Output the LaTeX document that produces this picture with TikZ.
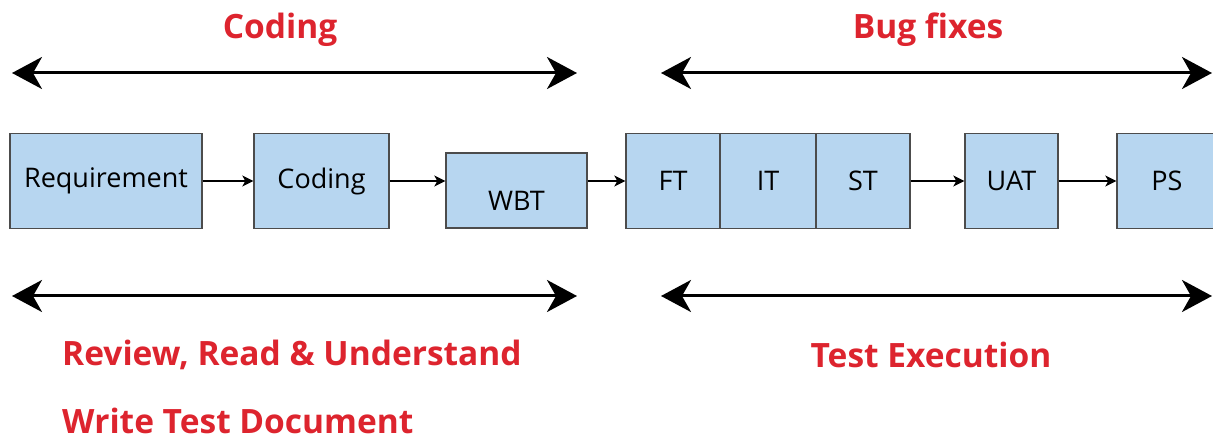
\documentclass[tikz,border=0pt]{standalone}
\usepackage{fontspec}
\setmainfont{Open Sans}
\usetikzlibrary{arrows.meta}
\definecolor{phasered}{RGB}{221,36,46}
\definecolor{boxblue}{RGB}{183,214,240}

\begin{document}
\begin{tikzpicture}[x=1pt, y=-1pt,
    stage/.style={draw=black!70, line width=1.4pt, fill=boxblue, inner sep=0pt,
      font=\fontsize{27}{30}\selectfont},
    flow/.style={-{Stealth[length=11pt, width=11pt, inset=3pt]}, line width=1.2pt},
    span/.style={{Stealth[length=30pt, width=32pt, inset=9pt]}-{Stealth[length=30pt, width=32pt, inset=9pt]}, line width=3pt},
    phase/.style={text=phasered, font=\fontsize{33.5}{36}\selectfont\bfseries, inner sep=0pt}]
    \useasboundingbox (0,0) rectangle (1213,443);
    % stages
    \node [stage, minimum width=192pt, minimum height=95pt] (req) at (106,181) {Requirement};
    \node [stage, minimum width=135pt, minimum height=95pt] (cod) at (321.5,181) {Coding};
    \node [stage, minimum width=141pt, minimum height=75pt] (wbt) at (516.5,190.5) {};
    \node (wbttext) [font=\fontsize{27}{30}\selectfont] at (516.5,201) {WBT};
    \node [stage, minimum width=94pt, minimum height=95pt] (ft) at (673,181) {FT};
    \node [stage, minimum width=96pt, minimum height=95pt] (it) at (768,181) {IT};
    \node [stage, minimum width=94pt, minimum height=95pt] (st) at (863,181) {ST};
    \node [stage, minimum width=93pt, minimum height=95pt] (uat) at (1011.5,181) {UAT};
    \node [stage, minimum width=100pt, minimum height=95pt] (ps) at (1167,181) {PS};
    \draw [flow] (req) -- (cod);
    \draw [flow] (cod.east) -- (cod.east -| wbt.west);
    \draw [flow] (wbt.east |- ft.west) -- (ft.west);
    \draw [flow] (st) -- (uat);
    \draw [flow] (uat) -- (ps);
    % spans
    \coordinate (tl1) at (12,73);
    \coordinate (tl2) at (577,73);
    \coordinate (tr1) at (661,73);
    \coordinate (tr2) at (1212,73);
    \coordinate (bl1) at (12,296);
    \coordinate (bl2) at (577,296);
    \coordinate (br1) at (661,296);
    \coordinate (br2) at (1212,296);
    \draw [span] (tl1) -- (tl2);
    \draw [span] (tr1) -- (tr2);
    \draw [span] (bl1) -- (bl2);
    \draw [span] (br1) -- (br2);
    % phase labels
    \node [phase] (coding) at (280,30) {Coding};
    \node [phase] (bugs) at (928,30) {Bug fixes};
    \node [phase, anchor=west] (review) at (62,355) {Review, Read \& Understand};
    \node [phase] (exec) at (931,355) {Test Execution};
    \node [phase, anchor=west] (writedoc) at (62,421) {Write Test Document};
\end{tikzpicture}
\end{document}
